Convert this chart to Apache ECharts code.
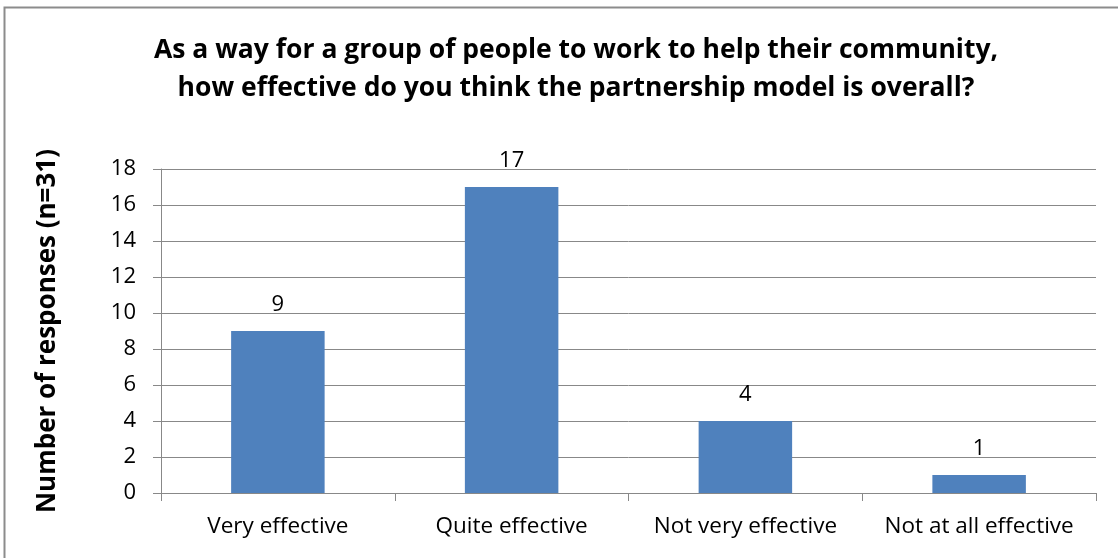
<!DOCTYPE html>
<html>
<head>
<meta charset="utf-8">
<script src="https://cdn.jsdelivr.net/npm/echarts@6/dist/echarts.min.js"></script>
<style>
  html, body { margin: 0; padding: 0; background: #fff; }
  #chart { width: 1118px; height: 558px; }
</style>
</head>
<body>
<div id="chart"></div>
<script>
// Survey responses: perceived effectiveness of the partnership model
const categories = ['Very effective', 'Quite effective', 'Not very effective', 'Not at all effective'];
const responses = [9, 17, 4, 1];
const yTicks = [0, 2, 4, 6, 8, 10, 12, 14, 16, 18];

const chart = echarts.init(document.getElementById('chart'));
const font = 'Open Sans, Noto Sans, sans-serif';

chart.setOption({
  backgroundColor: '#ffffff',
  animation: false,
  graphic: [{
    type: 'rect',
    shape: { x: 4.5, y: 7.5, width: 1130, height: 560 },
    style: { fill: 'none', stroke: '#8c8c8c', lineWidth: 2 }
  }],
  title: {
    text: 'As a way for a group of people to work to help their community,\nhow effective do you think the partnership model is overall?',
    left: 571,
    textAlign: 'center',
    top: 26,
    textStyle: {
      fontFamily: font,
      fontSize: 26.5,
      fontWeight: 'bold',
      color: '#000',
      lineHeight: 38
    }
  },
  grid: { left: 161, right: 22, top: 169, bottom: 65 },
  xAxis: {
    type: 'category',
    data: categories,
    axisLine: { lineStyle: { color: '#888', width: 1 } },
    axisTick: { show: true, length: 8, alignWithLabel: false, lineStyle: { color: '#888' } },
    axisLabel: { interval: 0, fontFamily: font, fontSize: 22.5, color: '#000', margin: 22 }
  },
  yAxis: {
    type: 'value',
    min: yTicks[0],
    max: yTicks[yTicks.length - 1],
    interval: 2,
    name: 'Number of responses (n=31)',
    nameLocation: 'middle',
    nameGap: 100,
    nameTextStyle: { fontFamily: font, fontSize: 26, fontWeight: 'bold', color: '#000' },
    axisLine: { show: true, lineStyle: { color: '#888' } },
    axisTick: { show: true, length: 8, lineStyle: { color: '#888' } },
    axisLabel: { fontFamily: font, fontSize: 22, color: '#000', margin: 25 },
    splitLine: { lineStyle: { color: '#888', width: 1 } }
  },
  series: [{
    type: 'bar',
    data: responses,
    barWidth: '40%',
    itemStyle: { color: '#4f81bd' },
    label: {
      show: true,
      position: 'top',
      distance: 15,
      fontFamily: font,
      fontSize: 22,
      color: '#000'
    }
  }]
});
</script>
</body>
</html>
